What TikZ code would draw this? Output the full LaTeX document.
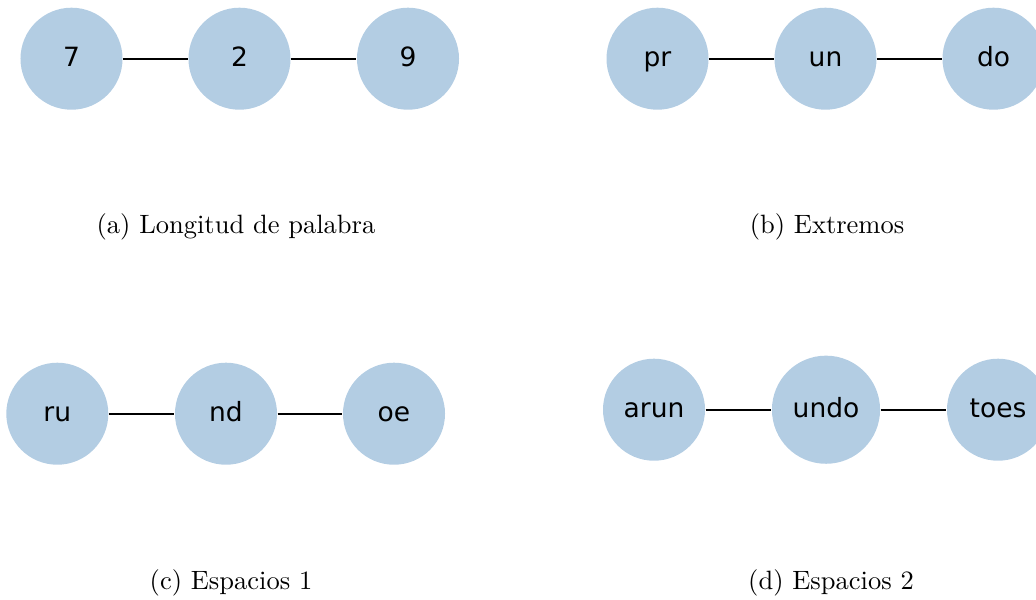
\documentclass[tikz,border=0pt]{standalone}
\usepackage{fontspec}
\newfontfamily\nodefont{DejaVu Sans}
\definecolor{nodeblue}{HTML}{B3CDE3}
\tikzset{
  vert/.style={circle, fill=nodeblue, draw=none, inner sep=0pt, minimum size=38.5pt,
    text height=7.3pt, text depth=1.2pt, font=\nodefont\fontsize{10}{12}\selectfont},
  bigvert/.style={vert, minimum size=40.8pt},
  edge/.style={draw=black, line width=0.75pt},
  captext/.style={anchor=base, inner sep=0pt, font=\fontsize{10}{12}\selectfont}
}
\begin{document}
\begin{tikzpicture}[x=0.3774pt, y=-0.3774pt]
\useasboundingbox (0,0) rectangle (1036,599);
% (a)
\node[vert] (a1) at (71.5,58.7) {7};
\node[vert] (a2) at (239.5,58.7) {2};
\node[vert] (a3) at (408,58.7) {9};
\draw[edge] (a1) -- (a2) (a2) -- (a3);
\node[captext] (capa) at (236,233) {(a) Longitud de palabra};
% (b)
\node[vert] (b1) at (657.5,58.7) {pr};
\node[vert] (b2) at (825.5,58.7) {un};
\node[vert] (b3) at (993.5,58.7) {do};
\draw[edge] (b1) -- (b2) (b2) -- (b3);
\node[captext] (capb) at (827,233) {(b) Extremos};
% (c)
\node[vert] (c1) at (57.3,413.7) {ru};
\node[vert] (c2) at (226,413.7) {nd};
\node[vert] (c3) at (394,413.7) {oe};
\draw[edge] (c1) -- (c2) (c2) -- (c3);
\node[captext] (capc) at (231,589) {(c) Espacios 1};
% (d)
\node[vert] (d1) at (654,409.7) {arun};
\node[bigvert] (d2) at (826,409.7) {undo};
\node[vert] (d3) at (998,409.7) {toes};
\draw[edge] (d1) -- (d2) (d2) -- (d3);
\node[captext] (capd) at (831,589) {(d) Espacios 2};
\end{tikzpicture}
\end{document}
